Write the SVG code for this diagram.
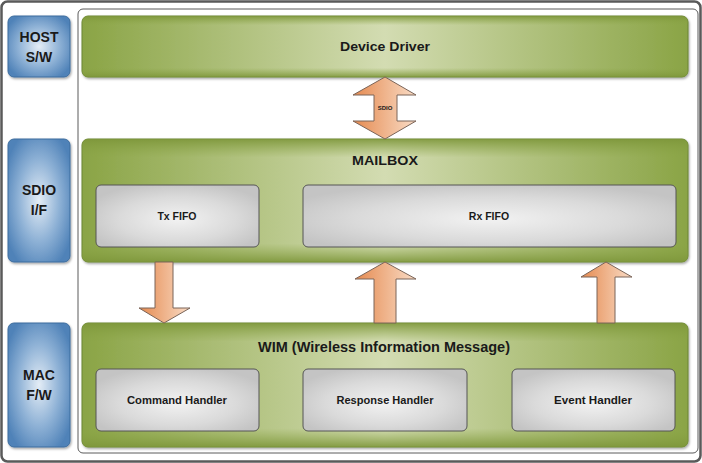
<svg xmlns="http://www.w3.org/2000/svg" width="702" height="463" viewBox="0 0 702 463">
<defs>
<linearGradient id="gH" x1="0" y1="0" x2="1" y2="0">
<stop offset="0" stop-color="#8aa445"/><stop offset="0.5" stop-color="#d3dcb2"/><stop offset="1" stop-color="#8aa445"/>
</linearGradient>
<linearGradient id="gV" x1="0" y1="0" x2="0" y2="1">
<stop offset="0" stop-color="#7d963a" stop-opacity="0.9"/><stop offset="0.15" stop-color="#8aa445" stop-opacity="0"/><stop offset="0.85" stop-color="#8aa445" stop-opacity="0"/><stop offset="1" stop-color="#7d963a" stop-opacity="0.9"/>
</linearGradient>
<radialGradient id="bR" cx="0.5" cy="0.5" r="0.6">
<stop offset="0" stop-color="#e4edf6"/><stop offset="0.55" stop-color="#8fb2d6"/><stop offset="1" stop-color="#4f82b8"/>
</radialGradient>
<radialGradient id="sR" cx="0.5" cy="0.55" r="0.6">
<stop offset="0" stop-color="#f2f2f2"/><stop offset="0.6" stop-color="#dadada"/><stop offset="1" stop-color="#c4c4c4"/>
</radialGradient>
<linearGradient id="aG" x1="0" y1="0" x2="1" y2="0">
<stop offset="0" stop-color="#e58a50"/><stop offset="1" stop-color="#f9dcc6"/>
</linearGradient>
<filter id="sh" x="-5%" y="-5%" width="110%" height="120%">
<feDropShadow dx="1" dy="1.5" stdDeviation="1" flood-color="#000" flood-opacity="0.35"/>
</filter>
</defs>
<style>
.frame{fill:#fff;stroke:#5a5a5a}
.blue{fill:url(#bR);stroke:#3d6d9e;stroke-width:1;filter:url(#sh)}
.green{fill:url(#gH);stroke:#6a8534;stroke-width:1;filter:url(#sh)}
.gv{fill:url(#gV);stroke:none}
.sub{fill:url(#sR);stroke:#555;stroke-width:1}
.arr{fill:url(#aG);stroke:#7a6458;stroke-width:1}
text{font-family:"Liberation Sans",Arial,sans-serif;font-weight:bold;fill:#1a1a1a;text-anchor:middle}
.bl{font-size:14px}
.t1{font-size:13px}
.t2{font-size:10.5px}
</style>
<rect class="frame" x="1.5" y="1.5" width="699" height="460" rx="6" stroke-width="2.5"/>
<rect class="frame" x="78" y="9" width="620" height="444" rx="5" stroke-width="1"/>

<g id="host">
<rect class="blue" x="8" y="16" width="62" height="61" rx="6"/>
<text class="bl" x="39" y="42">HOST</text>
<text class="bl" x="39" y="62">S/W</text>
</g>
<g id="sdioif">
<rect class="blue" x="8" y="139" width="62" height="123" rx="6"/>
<text class="bl" x="39" y="195">SDIO</text>
<text class="bl" x="39" y="215">I/F</text>
</g>
<g id="macfw">
<rect class="blue" x="8" y="323" width="62" height="124" rx="6"/>
<text class="bl" x="39" y="380">MAC</text>
<text class="bl" x="39" y="400">F/W</text>
</g>

<g id="device-driver">
<rect class="green" x="82" y="16" width="606" height="61" rx="6"/>
<rect class="gv" x="82" y="16" width="606" height="61" rx="6"/>
<text class="t1" x="385" y="51" textLength="90" lengthAdjust="spacingAndGlyphs">Device Driver</text>
</g>

<g id="mailbox">
<rect class="green" x="82" y="139" width="606" height="123" rx="6"/>
<rect class="gv" x="82" y="139" width="606" height="123" rx="6"/>
<text class="t1" x="385" y="165" textLength="66" lengthAdjust="spacingAndGlyphs">MAILBOX</text>
</g>
<g id="txfifo">
<rect class="sub" x="96" y="185" width="163" height="62" rx="5"/>
<text class="t2" x="177" y="220">Tx FIFO</text>
</g>
<g id="rxfifo">
<rect class="sub" x="303" y="185" width="373" height="62" rx="5"/>
<text class="t2" x="489" y="220">Rx FIFO</text>
</g>

<g id="wim">
<rect class="green" x="82" y="323" width="606" height="124" rx="6"/>
<rect class="gv" x="82" y="323" width="606" height="124" rx="6"/>
<text x="384" y="352" style="font-size:15px" textLength="252" lengthAdjust="spacingAndGlyphs">WIM (Wireless Information Message)</text>
</g>
<g id="command-handler">
<rect class="sub" x="96" y="369" width="163" height="62" rx="5"/>
<text class="t2" x="177" y="404" textLength="100" lengthAdjust="spacingAndGlyphs">Command Handler</text>
</g>
<g id="response-handler">
<rect class="sub" x="303" y="369" width="164" height="62" rx="5"/>
<text class="t2" x="385" y="404" textLength="97" lengthAdjust="spacingAndGlyphs">Response Handler</text>
</g>
<g id="event-handler">
<rect class="sub" x="512" y="369" width="163" height="62" rx="5"/>
<text class="t2" x="593" y="404" textLength="78" lengthAdjust="spacingAndGlyphs">Event Handler</text>
</g>

<g id="connectors">
<path class="arr" d="M385,77 L416,95 L397,95 L397,121 L416,121 L385,139 L353,121 L374,121 L374,95 L353,95 Z"/>
<text x="385" y="110" style="font-size:6px;font-weight:bold">SDIO</text>
<path class="arr" d="M155,262 L173,262 L173,308 L190,308 L164,323 L139,308 L155,308 Z"/>
<path class="arr" d="M385,262 L416,279 L396,279 L396,323 L374,323 L374,279 L355,279 Z"/>
<path class="arr" d="M606,262 L632,277 L615,277 L615,323 L597,323 L597,277 L581,277 Z"/>
</g>
</svg>
